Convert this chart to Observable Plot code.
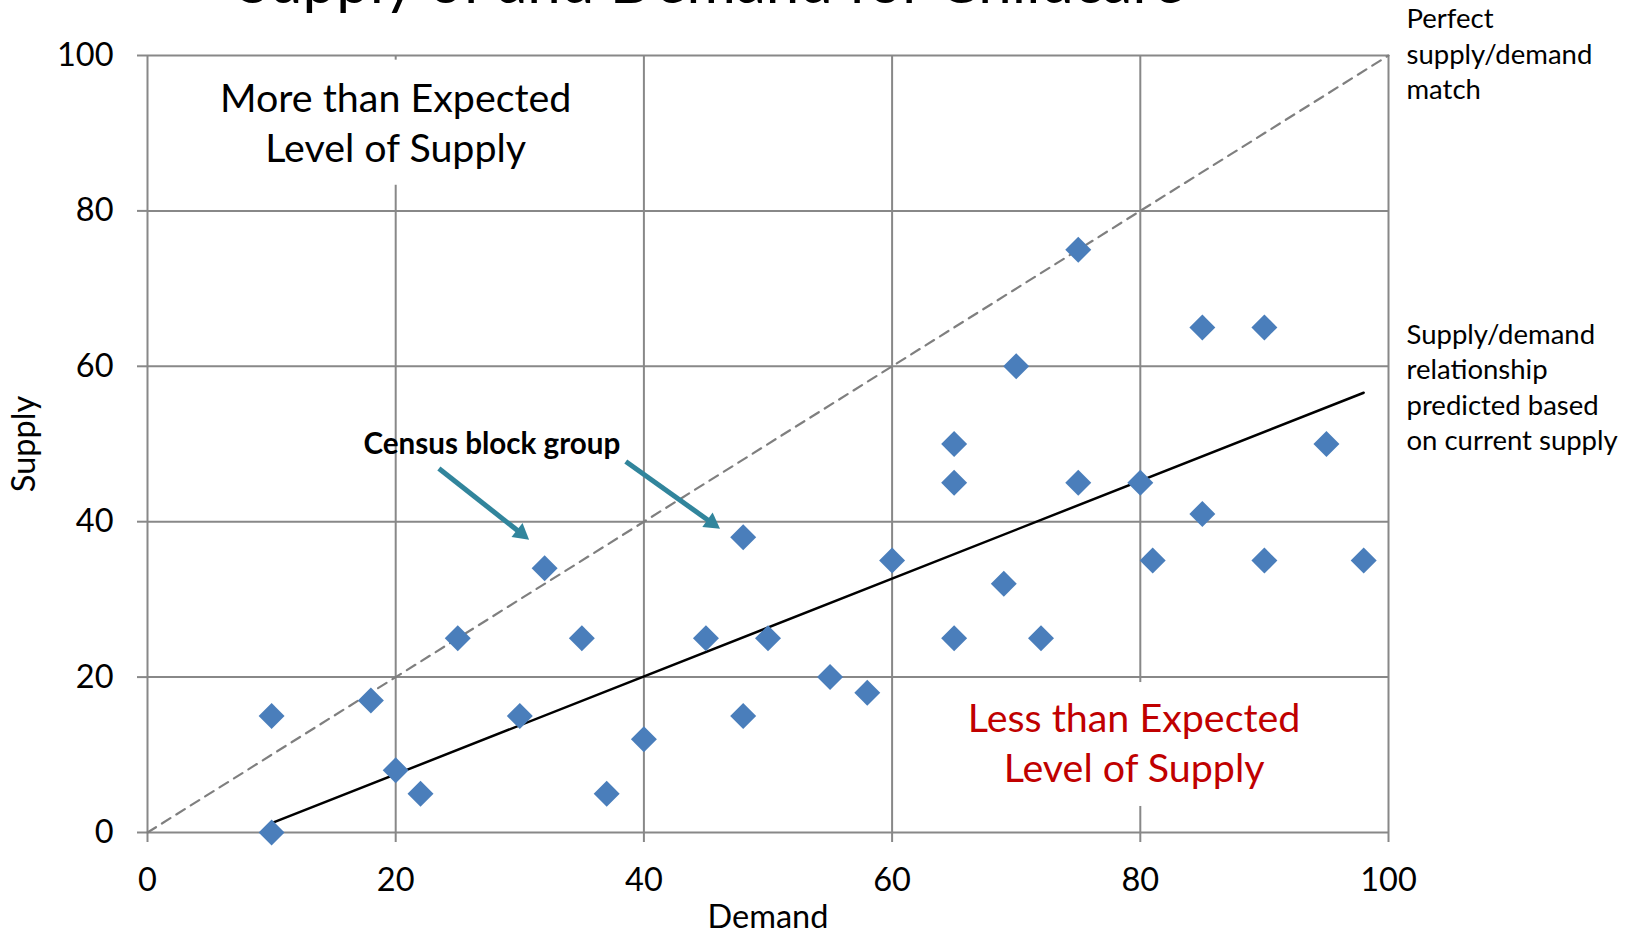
<!DOCTYPE html>
<html>
<head>
<meta charset="utf-8">
<script src="https://cdn.jsdelivr.net/npm/d3@7"></script>
<script src="https://cdn.jsdelivr.net/npm/@observablehq/plot@0.6"></script>
<style>
  html, body { margin: 0; padding: 0; background: white; overflow: hidden; }
</style>
</head>
<body>
<div id="chart"></div>
<script>
// Data
const demand = [10, 10, 18, 20, 22, 25, 30, 32, 35, 37, 40, 45, 48, 48, 50, 55, 58, 60, 65, 65, 65, 69, 70, 72, 75, 75, 80, 81, 85, 85, 90, 90, 95, 98];
const supply = [15, 0, 17, 8, 5, 25, 15, 34, 25, 5, 12, 25, 38, 15, 25, 20, 18, 35, 50, 45, 25, 32, 60, 25, 75, 45, 45, 35, 65, 41, 65, 35, 50, 35];

// Perfect match line and fitted (predicted) trend line endpoints
const matchX = [0, 100];
const matchY = [0, 100];
const trendX = [10, 98];
const trendY = [1.2, 56.6];

const xTicks = [0, 20, 40, 60, 80, 100];
const yTicks = [0, 20, 40, 60, 80, 100];

const titleText = "Supply of and Demand for Childcare";
const xLabel = "Demand";
const yLabel = "Supply";
const noteMatch = "Perfect\nsupply/demand\nmatch";
const notePredicted = "Supply/demand\nrelationship\npredicted based\non current supply";
const noteMore = "More than Expected\nLevel of Supply";
const noteLess = "Less than Expected\nLevel of Supply";
const noteCensus = "Census block group";

// annotation arrows: start, head centroid, rotation
const arrows = [
  {x1: 23.48, y1: 46.85, x2: 30.10, y2: 38.51, rot: 128.3},
  {x1: 38.54, y1: 47.75, x2: 45.46, y2: 39.87, rot: 125.5}
];

const points = demand.map((d, i) => ({demand: d, supply: supply[i]}));
const matchLine = matchX.map((d, i) => ({x: d, y: matchY[i]}));
const trendLine = trendX.map((d, i) => ({x: d, y: trendY[i]}));

const gridColor = "#888888";
const arrowColor = "#31859C";

const chart = Plot.plot({
  width: 1629,
  height: 929,
  marginLeft: 147,
  marginRight: 241,
  marginTop: 55,
  marginBottom: 97,
  style: {fontFamily: "Lato, 'Open Sans', sans-serif", background: "white", color: "black"},
  x: {domain: [0, 100], label: null},
  y: {domain: [0, 100], label: null},
  marks: [
    Plot.gridX(xTicks, {stroke: gridColor, strokeOpacity: 1, strokeWidth: 2}),
    Plot.gridY(yTicks, {stroke: gridColor, strokeOpacity: 1, strokeWidth: 2}),
    // white backgrounds behind region labels
    Plot.rect([{x1: 3, x2: 37, y1: 83.3, y2: 99.4}], {x1: "x1", x2: "x2", y1: "y1", y2: "y2", fill: "white"}),
    Plot.rect([{x1: 65.5, x2: 93.5, y1: 3.35, y2: 19.3}], {x1: "x1", x2: "x2", y1: "y1", y2: "y2", fill: "white"}),
    Plot.axisX(xTicks, {tickSize: 10, tickPadding: 25, fontSize: 32.5, stroke: gridColor, strokeWidth: 2, fill: "black", label: null}),
    Plot.axisY(yTicks, {tickSize: 10, tickPadding: 24, fontSize: 32.5, stroke: gridColor, strokeWidth: 2, fill: "black", label: null}),
    Plot.line(matchLine, {x: "x", y: "y", stroke: "#7F7F7F", strokeWidth: 2.2, strokeDasharray: "10,7"}),
    Plot.line(trendLine, {x: "x", y: "y", stroke: "black", strokeWidth: 2.5}),
    Plot.dot(points, {x: "demand", y: "supply", symbol: "diamond2", r: 11.7, fill: "#4A7EBB", stroke: "none"}),
    // arrows
    Plot.link(arrows, {x1: "x1", y1: "y1", x2: "x2", y2: "y2", stroke: arrowColor, strokeWidth: 5}),
    Plot.dot(arrows, {x: "x2", y: "y2", symbol: "triangle", r: 6.6, fill: arrowColor, stroke: "none", rotate: "rot"}),
    // texts
    Plot.text([noteMore], {x: 20, y: 91.6, fontSize: 39.4, lineHeight: 1.28, fill: "black"}),
    Plot.text([noteLess], {x: 79.5, y: 11.8, fontSize: 39.4, lineHeight: 1.28, fill: "#C00000"}),
    Plot.text([noteCensus], {x: 27.75, y: 49.9, fontSize: 29.6, fontWeight: "bold", fill: "black"}),
    Plot.text([noteMatch], {x: 100, y: 100.4, dx: 18, textAnchor: "start", fontSize: 27.5, lineHeight: 1.28, fill: "black"}),
    Plot.text([notePredicted], {x: 100, y: 57.5, dx: 18, textAnchor: "start", fontSize: 27.5, lineHeight: 1.28, fill: "black"}),
    Plot.text([titleText], {x: 45.4, y: 106.8, lineAnchor: "bottom", fontSize: 60, fill: "black"}),
    Plot.text([xLabel], {frameAnchor: "bottom", dy: 95, lineAnchor: "bottom", fontSize: 32.5, fill: "black"}),
    Plot.text([yLabel], {x: -9.1, y: 50, rotate: -90, lineAnchor: "bottom", fontSize: 32.5, fill: "black"})
  ]
});
document.getElementById("chart").appendChild(chart);
</script>
</body>
</html>
